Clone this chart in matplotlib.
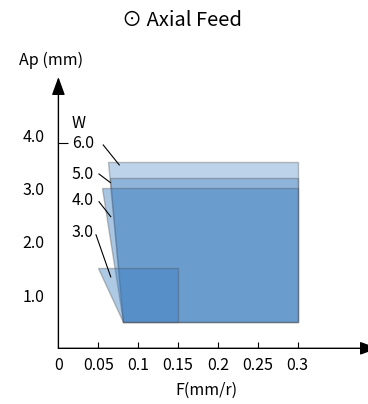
import matplotlib
matplotlib.use("Agg")
import matplotlib.pyplot as plt
from matplotlib.patches import Polygon

plt.rcParams['font.family'] = ['Noto Sans CJK SC', 'DejaVu Sans']

# ---- data ----
w_labels = ['3.0', '4.0', '5.0', '6.0']
ap_top = [1.5, 3.0, 3.2, 3.5]          # upper Ap limit for each W
f_top_left = [0.05, 0.055, 0.0647, 0.0626]  # feed at top-left corner
f_right = [0.15, 0.3, 0.3, 0.3]         # max feed
ap_bottom = 0.5                          # lower Ap limit
f_bottom_left = 0.0814                   # feed at bottom-left corner
x_ticks = [0, 0.05, 0.1, 0.15, 0.2, 0.25, 0.3]
x_tick_labels = ['0', '0.05', '0.1', '0.15', '0.2', '0.25', '0.3']
y_ticks = [1.0, 2.0, 3.0, 4.0]
y_tick_labels = ['1.0', '2.0', '3.0', '4.0']
y_tick_marks = [1.0, 2.0, 3.0, 3.85]

# styling
FS = 11.5
face_base = '#3f7fc0'
alphas = {'3.0': 0.42, '4.0': 0.45, '5.0': 0.36, '6.0': 0.34}
# label positions (text) and leader line ends
label_pos = {'6.0': (0.017, 3.85), '5.0': (0.017, 3.27), '4.0': (0.017, 2.78), '3.0': (0.017, 2.18)}
leaders = {'6.0': ((0.0562, 3.815), (0.0763, 3.44)),
           '5.0': ((0.0509, 3.27), (0.0651, 3.11)),
           '4.0': ((0.0509, 2.75), (0.0656, 2.47)),
           '3.0': ((0.0471, 2.13), (0.0656, 1.34))}

W, H = 368, 404
fig = plt.figure(figsize=(W / 100, H / 100), dpi=100)
x0px, y0px = 58.4, 348.3
px_per_x = 797.7
px_per_y = 53.3
xmax = (W - x0px) / px_per_x
ytop_px = 66
ymax = (y0px - ytop_px) / px_per_y
ax = fig.add_axes([x0px / W, (H - y0px) / H, (W - x0px) / W, (y0px - ytop_px) / H])
ax.set_xlim(0, xmax)
ax.set_ylim(0, ymax)
for s in ax.spines.values():
    s.set_visible(False)

# polygons, drawn largest first
order = ['6.0', '5.0', '4.0', '3.0']
for w in order:
    i = w_labels.index(w)
    pts = [(f_top_left[i], ap_top[i]), (f_right[i], ap_top[i]),
           (f_right[i], ap_bottom), (f_bottom_left, ap_bottom)]
    ax.add_patch(Polygon(pts, closed=True,
                         fc=matplotlib.colors.to_rgba(face_base, alphas[w]),
                         ec=(0.3, 0.3, 0.3, 0.35), lw=1.0, zorder=2))

# labels and leaders
ax.text(0.017, 4.22, 'W', fontsize=FS, ha='left', va='center')
for w in w_labels:
    lx, ly = label_pos[w]
    ax.text(lx, ly, w, fontsize=FS, ha='left', va='center', zorder=4)
    (a, b), (c, d) = leaders[w]
    ax.plot([a, c], [b, d], color='black', lw=0.8, zorder=4)

# axes with arrows
ax.annotate('', xy=(0, (y0px - 77) / px_per_y), xytext=(0, 0),
            arrowprops=dict(arrowstyle='-|>,head_length=1.1,head_width=0.4',
                            mutation_scale=10, color='black', lw=1.0,
                            shrinkA=0, shrinkB=0), annotation_clip=False)
ax.annotate('', xy=((378 - x0px) / px_per_x, 0), xytext=(0, 0),
            arrowprops=dict(arrowstyle='-|>,head_length=1.1,head_width=0.4',
                            mutation_scale=10, color='black', lw=1.0,
                            shrinkA=0, shrinkB=0), annotation_clip=False)

# ticks
ax.set_xticks(x_ticks)
ax.set_xticklabels(x_tick_labels, fontsize=FS)
ax.tick_params(axis='x', direction='in', length=4, width=0.8, pad=6)
ax.xaxis.get_major_ticks()[0].tick1line.set_visible(False)
ax.set_yticks(y_ticks)
ax.set_yticklabels(y_tick_labels, fontsize=FS)
ax.tick_params(axis='y', which='major', length=0, pad=10)
ax.set_yticks(y_tick_marks, minor=True)
ax.tick_params(axis='y', which='minor', direction='in', length=7, width=0.8)

ax.set_xlabel('F(mm/r)', fontsize=FS)
ax.xaxis.set_label_coords((206.7 - x0px) / (W - x0px), -(390 - y0px) / (y0px - ytop_px), transform=ax.transAxes)
ax.xaxis.label.set_va('center')

fig.text(51.5 / W, 1 - 60 / H, 'Ap (mm)', fontsize=FS, ha='center', va='center')
fig.text(181.5 / W, 1 - 21 / H, '⊙ Axial Feed', fontsize=14.5, ha='center', va='center')

fig.savefig('out.png', dpi=100)
